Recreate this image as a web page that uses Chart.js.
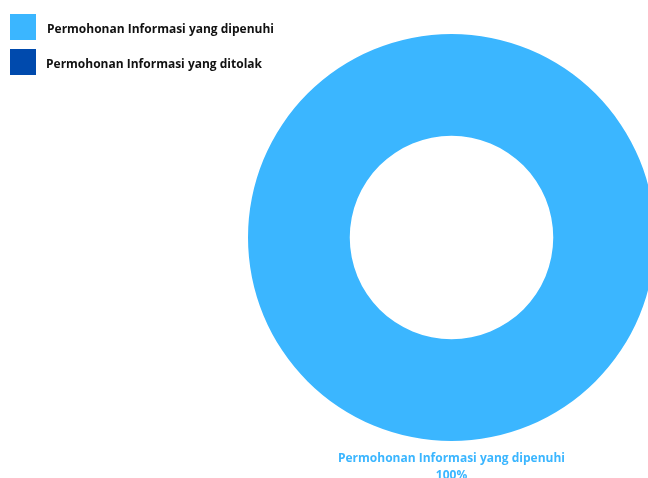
<!DOCTYPE html>
<html>
<head>
<meta charset="utf-8">
<script src="https://cdn.jsdelivr.net/npm/chart.js@4"></script>
<style>
  html, body { margin: 0; padding: 0; background: #fff; overflow: hidden; }
  #wrap { position: relative; width: 903px; height: 478px; }
</style>
</head>
<body>
<div id="wrap"><canvas id="graph"></canvas></div>
<script>
// kategori & nilai permohonan
const labels = ["Permohonan Informasi yang dipenuhi", "Permohonan Informasi yang ditolak"];
const values = [100, 0];
const colors = ["#3bb6ff", "#004aad"];

const FONT = "bold 12px 'Open Sans'";

// legenda kiri atas: kotak 26px + teks
const sideLegend = {
  id: "sideLegend",
  afterDraw(chart) {
    const ctx = chart.ctx;
    const bg = chart.data.datasets[0].backgroundColor;
    ctx.save();
    ctx.font = FONT;
    ctx.textAlign = "left";
    ctx.textBaseline = "alphabetic";
    chart.data.labels.forEach((t, i) => {
      const top = 14 + i * 35;
      ctx.fillStyle = bg[i];
      ctx.fillRect(10, top, 26, 26);
      ctx.fillStyle = "#111";
      ctx.fillText(t, 47 - i, top + 19.3);
    });
    ctx.restore();
  },
};

// label di luar cincin: nama + persen
const outsideLabels = {
  id: "outsideLabels",
  afterDatasetsDraw(chart) {
    const ctx = chart.ctx;
    const meta = chart.getDatasetMeta(0);
    const data = chart.data.datasets[0].data;
    const total = data.reduce((a, b) => a + b, 0);
    ctx.save();
    ctx.font = FONT;
    ctx.textAlign = "center";
    ctx.textBaseline = "middle";
    meta.data.forEach((arc, i) => {
      if (!data[i]) return;
      const p = arc.getProps(["x", "y", "startAngle", "endAngle", "outerRadius"], true);
      const mid = (p.startAngle + p.endAngle) / 2;
      const r = p.outerRadius + 18;
      const x = p.x + Math.cos(mid) * r;
      const y = p.y + Math.sin(mid) * r;
      ctx.fillStyle = colors[i];
      ctx.fillText(labels[i], x, y);
      ctx.fillText(Math.round((data[i] / total) * 100) + "%", x, y + 17);
    });
    ctx.restore();
  },
};

const config = {
  type: "doughnut",
  data: {
    labels: labels,
    datasets: [
      {
        data: values,
        backgroundColor: colors,
        borderWidth: 0,
      },
    ],
  },
  options: {
    responsive: true,
    maintainAspectRatio: false,
    animation: false,
    radius: 203.5,
    cutout: "50%",
    layout: { padding: { top: 4, bottom: 7, left: 0, right: 0 } },
    plugins: {
      tooltip: { enabled: false },
      legend: { display: false },
    },
  },
  plugins: [outsideLabels, sideLegend],
};

new Chart(document.getElementById("graph"), config);
</script>
</body>
</html>
